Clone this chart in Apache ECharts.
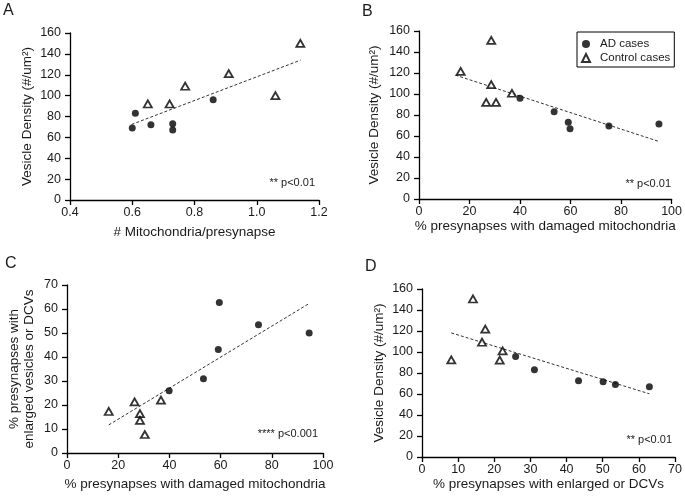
<!DOCTYPE html>
<html>
<head>
<meta charset="utf-8">
<script src="https://cdn.jsdelivr.net/npm/echarts@6/dist/echarts.min.js"></script>
<style>
html,body{margin:0;padding:0;background:#fff;}
#chart{width:685px;height:501px;}
</style>
</head>
<body>
<div id="chart"></div>
<script>
// ---- Panel A: mitochondria per presynapse vs vesicle density ----
const aMitoAD = [0.60, 0.61, 0.66, 0.73, 0.73, 0.86];
const aDensAD = [69, 83, 72, 73, 67, 96];
const aMitoCtl = [0.65, 0.72, 0.77, 0.91, 1.06, 1.14];
const aDensCtl = [92, 92, 109, 121, 100, 150];
const aFitX = [0.598, 1.141];
const aFitY = [72.4, 134];

// ---- Panel B: % damaged mitochondria vs vesicle density ----
const bDamAD = [40.0, 53.5, 59.1, 59.8, 75.2, 95.0];
const bDensAD = [96, 83, 73, 67, 69.5, 71.5];
const bDamCtl = [16.5, 28.6, 28.6, 26.6, 30.5, 36.8];
const bDensCtl = [121.5, 151, 109, 92, 92, 100.7];
const bFitX = [14.4, 95];
const bFitY = [118, 54.8];

// ---- Panel C: % damaged mitochondria vs % enlarged vesicles/DCVs ----
const cDamAD = [39.9, 53.3, 59.1, 59.5, 74.8, 94.6];
const cEnlAD = [25.9, 30.9, 43.1, 62.7, 53.4, 50];
const cDamCtl = [16.3, 26.4, 28.5, 28.5, 30.4, 36.7];
const cEnlCtl = [17.3, 21.3, 16.4, 13.6, 7.7, 22];
const cFitX = [16.3, 94.6];
const cFitY = [11.7, 62.3];

// ---- Panel D: % enlarged/DCVs vs vesicle density ----
const dEnlAD = [25.9, 31.1, 43.3, 50.1, 53.5, 62.9];
const dDensAD = [95.7, 83, 72.6, 71.6, 69.1, 66.9];
const dEnlCtl = [8.1, 14.1, 17.5, 16.6, 21.5, 22.3];
const dDensCtl = [92.5, 150.5, 121.7, 109.3, 92.2, 101];
const dFitX = [8.1, 62.9];
const dFitY = [118.2, 60.2];

const panelLetters = ['A', 'B', 'C', 'D'];
const pTexts = ['** p<0.01', '** p<0.01', '**** p<0.001', '** p<0.01'];
const legendNames = ['AD cases', 'Control cases'];

const xNames = ['# Mitochondria/presynapse', '% presynapses with damaged mitochondria',
  '% presynapses with damaged mitochondria', '% presynapses with enlarged or DCVs'];
const yNames = ['Vesicle Density (#/um²)', 'Vesicle Density (#/um²)',
  '% presynapses with\nenlarged vesicles or DCVs', 'Vesicle Density (#/um²)'];

const xRanges = [[0.4, 1.2, 0.2], [0, 100, 20], [0, 100, 20], [0, 70, 10]];
const yRanges = [[0, 160, 20], [0, 160, 20], [0, 70, 10], [0, 160, 20]];

const zip = (xs, ys) => xs.map((x, i) => [x, ys[i]]);

const FONT = '"Liberation Sans", Arial, Helvetica, sans-serif';
const TXT = '#1a1a1a';

const grids = [
  { left: 70, top: 33, width: 249, height: 167 },
  { left: 419, top: 31, width: 254, height: 168 },
  { left: 67, top: 285, width: 256, height: 168 },
  { left: 422, top: 289, width: 256, height: 168 }
];
const xNameGaps = [25, 18, 24, 17];
const yNameGaps = [35, 37, 30, 35];

const axisCommon = {
  axisLine: { show: true, lineStyle: { color: '#000', width: 1.3 } },
  axisTick: { show: true, length: 5, lineStyle: { color: '#000', width: 1.3 } },
  splitLine: { show: false },
  nameLocation: 'middle',
  nameTextStyle: { fontFamily: FONT, fontSize: 13.5, color: TXT },
};

const xAxes = xRanges.map((r, i) => Object.assign({}, axisCommon, {
  type: 'value', gridIndex: i, min: r[0], max: r[1], interval: r[2],
  name: xNames[i], nameGap: xNameGaps[i],
  axisLabel: { fontFamily: FONT, fontSize: 12.5, color: TXT, margin: 6,
    formatter: i === 0 ? (v => v.toFixed(1)) : (v => String(Math.round(v))) }
}));
const yAxes = yRanges.map((r, i) => Object.assign({}, axisCommon, {
  type: 'value', gridIndex: i, min: r[0], max: r[1], interval: r[2],
  name: yNames[i], nameGap: yNameGaps[i], nameRotate: 90,
  nameTextStyle: { fontFamily: FONT, fontSize: 13.5, color: TXT, lineHeight: 15 },
  axisLabel: { fontFamily: FONT, fontSize: 12.5, color: TXT, margin: 9 }
}));

const adStyle = { color: '#000' };
const ctlStyle = { color: '#fff', borderColor: '#000', borderWidth: 1.8 };
const panels = [
  [aMitoAD, aDensAD, aMitoCtl, aDensCtl, aFitX, aFitY],
  [bDamAD, bDensAD, bDamCtl, bDensCtl, bFitX, bFitY],
  [cDamAD, cEnlAD, cDamCtl, cEnlCtl, cFitX, cFitY],
  [dEnlAD, dDensAD, dEnlCtl, dDensCtl, dFitX, dFitY]
];
const series = [];
panels.forEach((p, i) => {
  series.push({
    type: 'line', xAxisIndex: i, yAxisIndex: i, data: zip(p[4], p[5]),
    symbol: 'none', silent: true, z: 1,
    lineStyle: { color: '#333', width: 1, type: [3, 2] }
  });
  series.push({
    name: legendNames[0], type: 'scatter', xAxisIndex: i, yAxisIndex: i,
    data: zip(p[0], p[1]), symbol: 'circle', symbolSize: 7, itemStyle: adStyle, z: 3
  });
  series.push({
    name: legendNames[1], type: 'scatter', xAxisIndex: i, yAxisIndex: i,
    data: zip(p[2], p[3]), symbol: 'triangle', symbolSize: [8, 7], itemStyle: ctlStyle, z: 3
  });
});

const letterPos = [[3, 3], [362, 4], [5, 256], [365, 259]];
const pPos = [[315, 183], [671, 184], [318, 434], [672, 440]];
const graphics = [];
panelLetters.forEach((L, i) => {
  graphics.push({ type: 'text', left: letterPos[i][0], top: letterPos[i][1],
    style: { text: L, fontFamily: FONT, fontSize: 16, fill: TXT } });
  graphics.push({ type: 'text', x: pPos[i][0], y: pPos[i][1],
    style: { text: pTexts[i], fontFamily: FONT, fontSize: 11, fill: TXT,
      align: 'right', verticalAlign: 'middle' } });
});

const chart = echarts.init(document.getElementById('chart'), null, { renderer: 'canvas' });
chart.setOption({
  animation: false,
  backgroundColor: '#fff',
  grid: grids,
  xAxis: xAxes,
  yAxis: yAxes,
  legend: {
    data: legendNames, orient: 'vertical', left: 577, top: 32,
    padding: [5, 4, 2, 4], itemGap: 0, itemWidth: 8, itemHeight: 8,
    borderColor: '#000', borderWidth: 1, selectedMode: false,
    textStyle: { fontFamily: FONT, fontSize: 11.5, color: TXT, lineHeight: 14, padding: [0, 0, 0, 5] }
  },
  graphic: graphics,
  series: series
});
</script>
</body>
</html>
